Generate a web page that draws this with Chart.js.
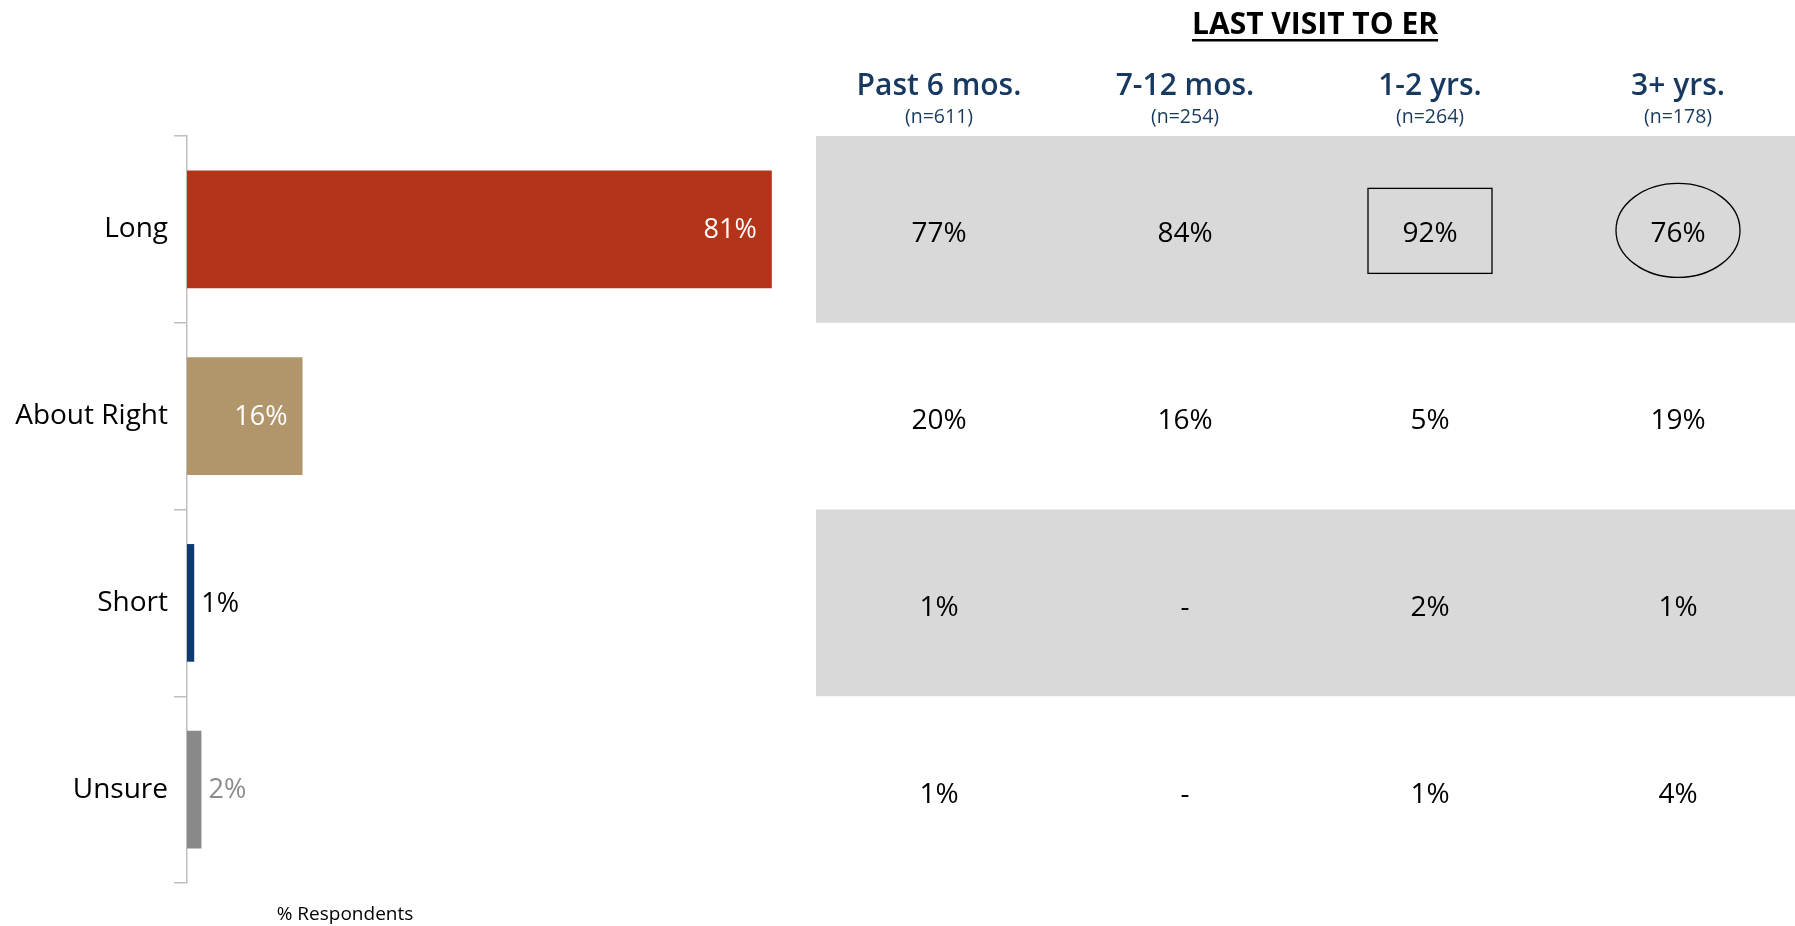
<!DOCTYPE html>
<html>
<head>
<meta charset="utf-8">
<title>Last visit to ER</title>
<script src="https://cdn.jsdelivr.net/npm/chart.js@4.4.1/dist/chart.umd.min.js"></script>
<style>
  html, body { margin: 0; padding: 0; background: #fff; }
  #wrap { width: 1795px; height: 926px; }
</style>
</head>
<body>
<div id="wrap"><canvas id="chart" width="1795" height="926"></canvas></div>
<script>
// --- data ---
const categories = ['Long', 'About Right', 'Short', 'Unsure'];
const overall = [81, 16, 1, 2];

const groupTitle = 'LAST VISIT TO ER';
const groups = ['Past 6 mos.', '7-12 mos.', '1-2 yrs.', '3+ yrs.'];
const groupSizes = [611, 254, 264, 178];
const past6Mos = [77, 20, 1, 1];
const mos7to12 = [84, 16, null, null];   // null = "-"
const yrs1to2 = [92, 5, 2, 1];
const yrs3Plus = [76, 19, 1, 4];
const groupValues = [past6Mos, mos7to12, yrs1to2, yrs3Plus];
const axisNote = '% Respondents';

// --- look ---
const FONT = '"Open Sans", "Noto Sans", sans-serif';
const barColors = ['#B33418', '#B0966A', '#0D3A73', '#898989'];
const outsideLabelColors = ['#000', '#000', '#000', '#8C8C8C'];
const NAVY = '#17395F';
const TABLE_LEFT = 816;
const colCenters = [939, 1185, 1430, 1678];

// labels on the bars
const barLabels = {
    id: 'barLabels',
    afterDatasetsDraw(chart) {
        const ctx = chart.ctx;
        const meta = chart.getDatasetMeta(0);
        ctx.save();
        ctx.font = '27px ' + FONT;
        ctx.textBaseline = 'middle';
        meta.data.forEach((bar, i) => {
            const txt = overall[i] + '%';
            if (overall[i] >= 10) {
                ctx.fillStyle = '#fff';
                ctx.textAlign = 'right';
                ctx.fillText(txt, bar.x - 15, bar.y + 1);
            } else {
                ctx.fillStyle = outsideLabelColors[i];
                ctx.textAlign = 'left';
                ctx.fillText(txt, bar.x + 7, bar.y + 1);
            }
        });
        ctx.restore();
    }
};

// breakdown table on the right, rows follow the category axis
const erTable = {
    id: 'erTable',
    afterDraw(chart) {
        const ctx = chart.ctx;
        const y = chart.scales.y;
        const band = y.height / categories.length;
        ctx.save();

        categories.forEach((c, i) => {
            if (i % 2) return;
            const cy = y.getPixelForValue(i);
            ctx.fillStyle = '#D9D9D9';
            ctx.fillRect(TABLE_LEFT, cy - band / 2, chart.width - TABLE_LEFT, band);
        });

        // title
        ctx.fillStyle = '#000';
        ctx.font = 'bold 30px ' + FONT;
        ctx.textAlign = 'center';
        ctx.textBaseline = 'middle';
        ctx.fillText(groupTitle, 1315, 25);
        const tw = ctx.measureText(groupTitle).width;
        ctx.fillRect(1315 - tw / 2, 39, tw, 2.5);

        // column headers
        groups.forEach((g, j) => {
            ctx.fillStyle = NAVY;
            ctx.font = '600 30px ' + FONT;
            ctx.fillText(g, colCenters[j], 86);
            ctx.font = '19.5px ' + FONT;
            ctx.fillText('(n=' + groupSizes[j] + ')', colCenters[j], 117);
        });

        // cells
        ctx.fillStyle = '#000';
        ctx.font = '28px ' + FONT;
        groupValues.forEach((col, j) => {
            col.forEach((v, i) => {
                const cy = y.getPixelForValue(i);
                ctx.fillText(v === null ? '-' : v + '%', colCenters[j], cy + 5);
            });
        });

        // call-outs: box on 1-2 yrs Long, circle on 3+ yrs Long
        const ly = y.getPixelForValue(0);
        ctx.strokeStyle = '#000';
        ctx.lineWidth = 1.3;
        ctx.strokeRect(colCenters[2] - 62, ly - 41, 124, 85);
        ctx.beginPath();
        ctx.ellipse(colCenters[3], ly + 1, 62, 47, 0, 0, Math.PI * 2);
        ctx.stroke();

        // axis note
        ctx.font = '19px ' + FONT;
        ctx.fillText(axisNote, 345, 915);
        ctx.restore();
    }
};

new Chart(document.getElementById('chart'), {
    type: 'bar',
    data: {
        labels: categories,
        datasets: [{
            data: overall,
            backgroundColor: barColors,
            borderWidth: 0,
            barPercentage: 0.63,
            categoryPercentage: 1
        }]
    },
    options: {
        indexAxis: 'y',
        responsive: false,
        devicePixelRatio: 1,
        animation: false,
        layout: { padding: { left: 0, right: 886, top: 136, bottom: 43 } },
        plugins: { legend: { display: false }, tooltip: { enabled: false } },
        scales: {
            x: { display: false, min: 0, max: 100 },
            y: {
                afterFit(scale) { scale.width = 187; },
                grid: {
                    offset: true,
                    drawOnChartArea: false,
                    tickLength: 13,
                    color: '#BFBFBF',
                    lineWidth: 1.5
                },
                border: { color: '#BFBFBF', width: 1.5 },
                ticks: {
                    color: '#000',
                    padding: 6,
                    font: { family: FONT, size: 28 }
                }
            }
        }
    },
    plugins: [barLabels, erTable]
});
</script>
</body>
</html>
